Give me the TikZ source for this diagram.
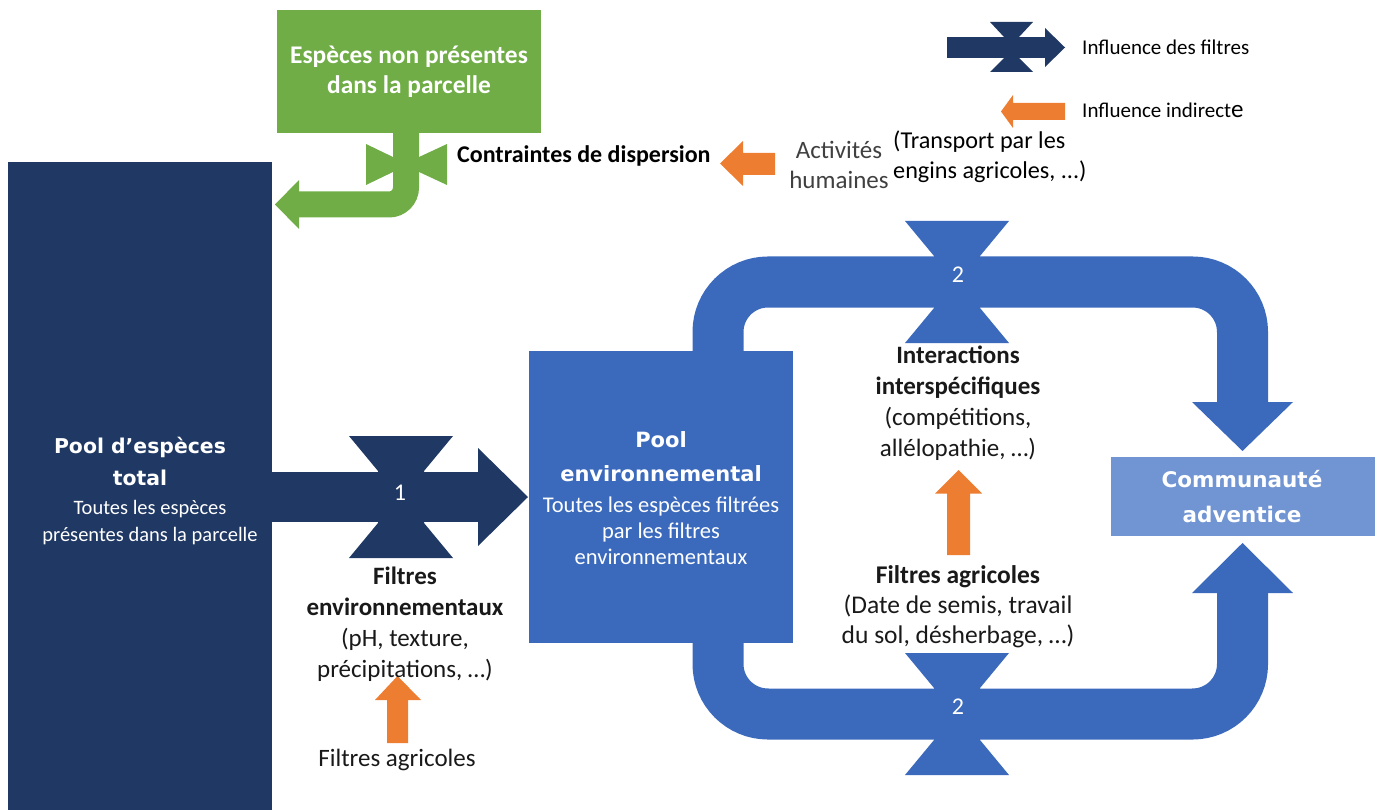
\documentclass[tikz,border=0pt]{standalone}
\usepackage{fontspec}
\setmainfont{Carlito}
\newfontfamily\ttlfont{DejaVu Sans}
\definecolor{navy}{RGB}{32,56,100}
\definecolor{midblue}{RGB}{59,106,189}
\definecolor{lightblue}{RGB}{113,148,210}
\definecolor{grn}{RGB}{112,173,71}
\definecolor{orng}{RGB}{237,125,49}
\definecolor{txtgray}{RGB}{64,64,64}
\definecolor{txtdark}{RGB}{25,25,25}
\begin{document}
\begin{tikzpicture}[x=1pt,y=-1pt,
  box/.style={draw=none, inner sep=0pt, minimum width=264pt},
  lbl/.style={inner sep=0pt, align=center},
  hglass/.pic={\fill (-52,-61) -- (52,-61) -- (23,-26) -- (23,26) -- (52,61) -- (-52,61) -- (-23,26) -- (-23,-26) -- cycle;}
]
\useasboundingbox (0,0) rectangle (1383,810);

% ---------- loops (under the boxes)
\coordinate (tl) at (718,352);
\coordinate (bl) at (718,642);
\coordinate (tr) at (1242.5,403);
\coordinate (br) at (1242.5,592);
\draw[midblue, line width=51pt, rounded corners=50pt] (tl) -- (718,282) -- (1242.5,282) -- (tr);
\draw[midblue, line width=51pt, rounded corners=50pt] (bl) -- (718,714) -- (1242.5,714) -- (br);
\fill[midblue] (1192,402) -- (1293,402) -- (1242.5,451) -- cycle;
\fill[midblue] (1192,593) -- (1293,593) -- (1242.5,543) -- cycle;
\pic[midblue] at (957,282) {hglass};
\pic[midblue] at (957,714) {hglass};

% ---------- boxes
\node[box, fill=navy, minimum height=648pt] (pooltot) at (140,486) {};
\node[box, fill=grn, minimum height=123pt] (nonpres) at (409,71.5) {};
\node[box, fill=midblue, minimum height=292pt] (poolenv) at (661,497) {};
\node[box, fill=lightblue, minimum height=79pt] (commu) at (1243,496.5) {};

% ---------- arrow 1
\fill[navy] (272,472) rectangle (479,522);
\fill[navy] (478,448) -- (528,497) -- (478,546) -- cycle;
\pic[navy] at (401,497) {hglass};

% ---------- green arrow
\draw[grn, line width=26pt, rounded corners=17pt] (406,132) -- (406,204.5) -- (298,204.5);
\fill[grn] (299,180) -- (275,204.5) -- (299,229) -- cycle;
\fill[grn] (366,144) -- (394,157.5) -- (394,171.5) -- (366,185) -- cycle;
\fill[grn] (447,144) -- (418,157.5) -- (418,171.5) -- (447,185) -- cycle;

% ---------- legend
\fill[navy] (947,37) rectangle (1046,58);
\fill[navy] (1045,28) -- (1065,47.5) -- (1045,67) -- cycle;
\fill[navy] (990,22) -- (1033,22) -- (1019,37) -- (1019,58) -- (1033,72) -- (990,72) -- (1004,58) -- (1004,37) -- cycle;
\fill[orng] (1065,103) -- (1013,103) -- (1013,95) -- (1001,111.5) -- (1013,128) -- (1013,120) -- (1065,120) -- cycle;
\node[lbl, anchor=west, font=\fontsize{21}{24}\selectfont] (leg1) at (1082,47) {Influence des filtres};
\node[lbl, anchor=west, font=\fontsize{21}{24}\selectfont] (leg2) at (1082,110) {Influence indirect{\fontsize{25}{25}\selectfont e}};

% ---------- orange arrows
\fill[orng] (775,153) -- (743,153) -- (743,141) -- (720,163.5) -- (743,186) -- (743,175) -- (775,175) -- cycle;
\fill[orng] (947,555) -- (947,493.5) -- (935,493.5) -- (958.5,470) -- (982,493.5) -- (970,493.5) -- (970,555) -- cycle;
\fill[orng] (387,743) -- (387,700) -- (375,700) -- (397.5,676) -- (421,700) -- (408,700) -- (408,743) -- cycle;

% ---------- texts
\node[lbl, text=white, font=\bfseries\fontsize{25.4}{30}\selectfont] (tnonpres) at (409,72) {Espèces non présentes\\dans la parcelle};
\node[lbl, anchor=west, font=\bfseries\fontsize{24}{28}\selectfont] (tcontr) at (457,156) {Contraintes de dispersion};
\node[lbl, text=txtgray, font=\fontsize{25}{30}\selectfont] (tact) at (839,165) {Activités\\humaines};
\node[lbl, anchor=west, align=left, font=\fontsize{24.2}{30}\selectfont] (ttransp) at (893,157) {(Transport par les\\engins agricoles, ...)};

\node[lbl, text=white, font=\ttlfont\bfseries\fontsize{20.4}{32}\selectfont] (ttot) at (140,461) {Pool d’espèces\\total};
\node[lbl, text=white, font=\fontsize{20.5}{27}\selectfont] (stot) at (150,523) {Toutes les espèces\\présentes dans la parcelle};
\node[lbl, text=white, font=\fontsize{24}{24}\selectfont] (n1) at (400,493) {1};

\node[lbl, text=txtdark, font=\fontsize{25}{31}\selectfont] (tfenv) at (405,624) {\textbf{Filtres}\\\textbf{environnementaux}\\(pH, texture,\\précipitations, …)};
\node[lbl, text=txtdark, font=\fontsize{25}{31}\selectfont] (tfagr1) at (397,760) {Filtres agricoles};

\node[lbl, text=white, font=\ttlfont\bfseries\fontsize{21}{34}\selectfont] (tenv) at (661,457) {Pool\\environnemental};
\node[lbl, text=white, font=\fontsize{22.5}{26}\selectfont] (senv) at (661,531) {Toutes les espèces filtrées\\par les filtres\\environnementaux};

\node[lbl, text=txtdark, font=\fontsize{25}{31}\selectfont] (tinter) at (958,403) {\textbf{Interactions}\\\textbf{interspécifiques}\\(compétitions,\\allélopathie, …)};
\node[lbl, text=txtdark, font=\fontsize{25.5}{30}\selectfont] (tfagr2) at (958,607) {\textbf{Filtres agricoles}\\(Date de semis, travail\\du sol, désherbage, …)};

\node[lbl, text=white, font=\ttlfont\bfseries\fontsize{21.5}{35}\selectfont] (tcom) at (1242,496.5) {Communauté\\adventice};
\node[lbl, text=white, font=\fontsize{24}{24}\selectfont] (n2a) at (958,275) {2};
\node[lbl, text=white, font=\fontsize{24}{24}\selectfont] (n2b) at (958,707) {2};
\end{tikzpicture}
\end{document}
